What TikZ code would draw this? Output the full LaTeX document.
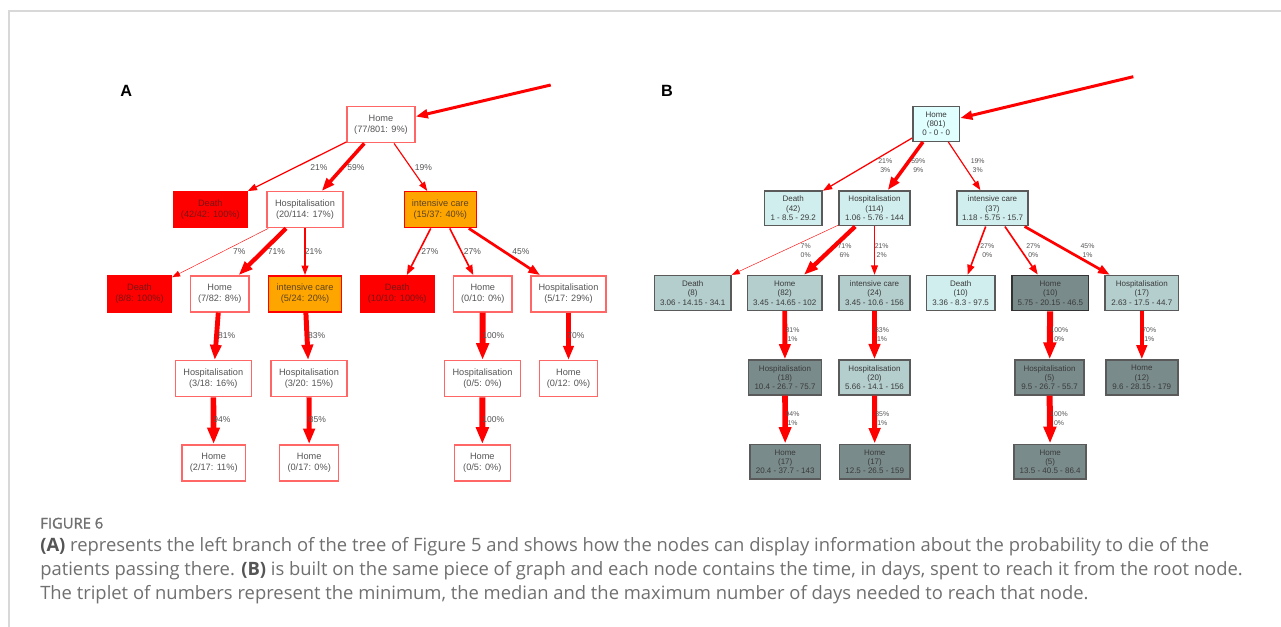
\documentclass[tikz,border=0pt]{standalone}
\usepackage{fontspec}
\setmainfont{Liberation Sans}
\newfontfamily\capfont{Open Sans}
\newfontfamily\capsemi[FakeBold=1.3]{Open Sans}
\usetikzlibrary{arrows.meta}
\definecolor{aborder}{HTML}{FF6666}
\definecolor{atext}{HTML}{555555}
\definecolor{deathtext}{HTML}{7A1414}
\definecolor{icfill}{HTML}{FFA500}
\definecolor{ictext}{HTML}{5C4420}
\definecolor{bborder}{HTML}{5A5A5A}
\definecolor{btext}{HTML}{3A3A3A}
\definecolor{bcA}{HTML}{E0FFFF}
\definecolor{bcB}{HTML}{D1EEEE}
\definecolor{bcC}{HTML}{B4CDCD}
\definecolor{bcD}{HTML}{7A8B8B}
\definecolor{labtext}{HTML}{555555}
\definecolor{framec}{HTML}{D8D8D8}
\definecolor{capgray}{HTML}{707070}
\definecolor{capbold}{HTML}{555555}
\begin{document}
\begin{tikzpicture}[x=0.75pt,y=-0.75pt,
  anode/.style={rectangle, draw=aborder, line width=1.1pt, fill=white, text=atext,
    align=center, inner sep=0pt, minimum height=27pt, minimum width=#1,
    font=\fontsize{6.9}{8.5}\selectfont},
  adeath/.style={anode=#1, fill=red, draw=red, text=deathtext},
  aic/.style={anode=#1, fill=icfill, draw=red, text=ictext},
  bnode/.style={rectangle, draw=bborder, line width=1.1pt, text=btext,
    align=center, inner sep=0pt, minimum height=26.2pt, minimum width=#1,
    font=\fontsize{6}{7}\selectfont},
  ed/.style={draw=red, line width=#1*0.045pt,
    -{Triangle[length=5.5pt 1.6, width'=0pt 0.72]}},
  alab/.style={font=\fontsize{6.4}{7.5}\selectfont, text=labtext, inner sep=0pt},
  blab/.style={font=\fontsize{5.2}{7}\selectfont, text=labtext, inner sep=0pt, align=center},
  plab/.style={font=\fontsize{12.2}{14}\selectfont\bfseries, inner sep=0pt},
  captxt/.style={font=\capfont\fontsize{13.8}{16}\selectfont, text=capgray, inner sep=0pt, anchor=base west}
]
\useasboundingbox (0,0) rectangle (1281,627);
\fill[white] (0,0) rectangle (1281,627);
\draw[framec, line width=0.9pt] (9,627) -- (9,11) -- (1281,11);

% ---------------- Panel A ----------------
\node[plab] (pA) at (126.3,90.8) {A};
\node[anode=51pt] (homeA) at (381,124.7) {Home\\(77/801: 9\%)};
\node[adeath=55pt] (deathA1) at (210.3,209.7) {Death\\(42/42: 100\%)};
\node[anode=57pt] (hospA1) at (305,209.7) {Hospitalisation\\(20/114: 17\%)};
\node[aic=54pt] (icA1) at (440.3,209.7) {intensive care\\(15/37: 40\%)};
\node[adeath=47.8pt] (deathA2) at (139.5,293.8) {Death\\(8/8: 100\%)};
\node[anode=44pt] (homeA2) at (219.7,293.8) {Home\\(7/82: 8\%)};
\node[aic=54.5pt] (icA2) at (305,293.8) {intensive care\\(5/24: 20\%)};
\node[adeath=55.2pt] (deathA3) at (397.2,293.8) {Death\\(10/10: 100\%)};
\node[anode=43.7pt] (homeA3) at (482.8,293.8) {Home\\(0/10: 0\%)};
\node[anode=56.5pt] (hospA3) at (568.5,293.8) {Hospitalisation\\(5/17: 29\%)};
\node[anode=57pt] (hospA4) at (213.3,378.7) {Hospitalisation\\(3/18: 16\%)};
\node[anode=57pt] (hospA5) at (309,378.7) {Hospitalisation\\(3/20: 15\%)};
\node[anode=56.7pt] (hospA6) at (482.5,378.7) {Hospitalisation\\(0/5: 0\%)};
\node[anode=43.2pt] (homeA6) at (568.5,378.7) {Home\\(0/12: 0\%)};
\node[anode=47.5pt] (homeA7) at (213.7,462.8) {Home\\(2/17: 11\%)};
\node[anode=44.3pt] (homeA8) at (309.2,462.8) {Home\\(0/17: 0\%)};
\node[anode=42pt] (homeA9) at (482.3,462.8) {Home\\(0/5: 0\%)};

\coordinate (inA) at (550.7,85);
\draw[ed=50] (inA) -- (homeA);
\draw[ed=21] (homeA) -- (deathA1);
\draw[ed=59] (homeA) -- (hospA1);
\draw[ed=19] (homeA) -- (icA1);
\draw[ed=7] (hospA1) -- (deathA2);
\draw[ed=71] (hospA1) -- (homeA2);
\draw[ed=21] (hospA1) -- (icA2);
\draw[ed=27] (icA1) -- (deathA3);
\draw[ed=27] (icA1) -- (homeA3);
\draw[ed=45] (icA1) -- (hospA3);
\draw[ed=81] (homeA2) -- (hospA4);
\draw[ed=83] (icA2) -- (hospA5);
\draw[ed=100] (homeA3) -- (hospA6);
\draw[ed=70] (hospA3) -- (homeA6);
\draw[ed=94] (hospA4) -- (homeA7);
\draw[ed=85] (hospA5) -- (homeA8);
\draw[ed=100] (hospA6) -- (homeA9);

\node[alab] (la1) at (319,167.3) {21\%};
\node[alab] (la2) at (356,167.3) {59\%};
\node[alab] (la3) at (423.3,167.3) {19\%};
\node[alab] (la4) at (239.3,251.7) {7\%};
\node[alab] (la5) at (276.3,251.7) {71\%};
\node[alab] (la6) at (313.3,251.7) {21\%};
\node[alab] (la7) at (430,251.7) {27\%};
\node[alab] (la8) at (472.3,251.7) {27\%};
\node[alab] (la9) at (521,251.7) {45\%};
\node[alab] (la10) at (226.7,336) {81\%};
\node[alab] (la11) at (316.7,336) {83\%};
\node[alab] (la12) at (493.3,336) {100\%};
\node[alab] (la13) at (576,336) {70\%};
\node[alab] (la14) at (222,419.7) {94\%};
\node[alab] (la15) at (317.3,419.7) {85\%};
\node[alab] (la16) at (493.3,419.7) {100\%};

% ---------------- Panel B ----------------
\node[plab] (pB) at (667,91) {B};
\node[bnode=35pt, fill=bcA] (homeB) at (936.2,123.8) {Home\\(801)\\0 - 0 - 0};
\node[bnode=43.4pt, fill=bcB] (deathB1) at (793.2,208.3) {Death\\(42)\\1 - 8.5 - 29.2};
\node[bnode=53pt, fill=bcB] (hospB1) at (874.5,208.3) {Hospitalisation\\(114)\\1.06 - 5.76 - 144};
\node[bnode=53.4pt, fill=bcB] (icB1) at (992.5,208.3) {intensive care\\(37)\\1.18 - 5.75 - 15.7};
\node[bnode=57.7pt, fill=bcC] (deathB2) at (692.7,293) {Death\\(8)\\3.06 - 14.15 - 34.1};
\node[bnode=56.2pt, fill=bcC] (homeB2) at (784.7,293) {Home\\(82)\\3.45 - 14.65 - 102};
\node[bnode=53.4pt, fill=bcC] (icB2) at (874.5,293) {intensive care\\(24)\\3.45 - 10.6 - 156};
\node[bnode=51.2pt, fill=bcB] (deathB3) at (960.7,293) {Death\\(10)\\3.36 - 8.3 - 97.5};
\node[bnode=57.2pt, fill=bcD, draw=black!80, line width=1.4pt] (homeB3) at (1050.3,293) {Home\\(10)\\5.75 - 20.15 - 46.5};
\node[bnode=55.4pt, fill=bcC] (hospB3) at (1141.8,293) {Hospitalisation\\(17)\\2.63 - 17.5 - 44.7};
\node[bnode=54.7pt, fill=bcD] (hospB4) at (785,377.5) {Hospitalisation\\(18)\\10.4 - 26.7 - 75.7};
\node[bnode=53.4pt, fill=bcC] (hospB5) at (874.5,377.5) {Hospitalisation\\(20)\\5.66 - 14.1 - 156};
\node[bnode=51.5pt, fill=bcD] (hospB6) at (1049.5,377.5) {Hospitalisation\\(5)\\9.5 - 26.7 - 55.7};
\node[bnode=54pt, fill=bcD] (homeB6) at (1141.8,377.5) {Home\\(12)\\9.6 - 28.15 - 179};
\node[bnode=53pt, fill=bcD] (homeB7) at (785.2,461.7) {Home\\(17)\\20.4 - 37.7 - 143};
\node[bnode=53.2pt, fill=bcD] (homeB8) at (874.7,461.7) {Home\\(17)\\12.5 - 26.5 - 159};
\node[bnode=54pt, fill=bcD] (homeB9) at (1050.2,461.7) {Home\\(5)\\13.5 - 40.5 - 86.4};

\coordinate (inB) at (1133.3,76.7);
\draw[ed=50] (inB) -- (homeB);
\draw[ed=21] (homeB) -- (deathB1);
\draw[ed=59] (homeB) -- (hospB1);
\draw[ed=19] (homeB) -- (icB1);
\draw[ed=7] (hospB1) -- (deathB2);
\draw[ed=71] (hospB1) -- (homeB2);
\draw[ed=21] (hospB1) -- (icB2);
\draw[ed=27] (icB1) -- (deathB3);
\draw[ed=27] (icB1) -- (homeB3);
\draw[ed=45] (icB1) -- (hospB3);
\draw[ed=81] (homeB2) -- (hospB4);
\draw[ed=83] (icB2) -- (hospB5);
\draw[ed=100] (homeB3) -- (hospB6);
\draw[ed=70] (hospB3) -- (homeB6);
\draw[ed=94] (hospB4) -- (homeB7);
\draw[ed=85] (hospB5) -- (homeB8);
\draw[ed=100] (hospB6) -- (homeB9);

\node[blab] (lb1) at (885.3,165.3) {21\%\\3\%};
\node[blab] (lb2) at (918.3,165.3) {59\%\\9\%};
\node[blab] (lb3) at (977.7,165.3) {19\%\\3\%};
\node[blab] (lb4) at (805.7,250.3) {7\%\\0\%};
\node[blab] (lb5) at (844.5,250.3) {71\%\\6\%};
\node[blab] (lb6) at (881.7,250.3) {21\%\\2\%};
\node[blab] (lb7) at (987.3,250.3) {27\%\\0\%};
\node[blab] (lb8) at (1033.3,250.3) {27\%\\0\%};
\node[blab] (lb9) at (1087.5,250.3) {45\%\\1\%};
\node[blab] (lb10) at (792.5,334.7) {81\%\\1\%};
\node[blab] (lb11) at (882,334.7) {83\%\\1\%};
\node[blab] (lb12) at (1059.3,334.7) {100\%\\0\%};
\node[blab] (lb13) at (1149.3,334.7) {70\%\\1\%};
\node[blab] (lb14) at (792.5,418.7) {94\%\\1\%};
\node[blab] (lb15) at (882.3,418.7) {85\%\\1\%};
\node[blab] (lb16) at (1059,418.7) {100\%\\0\%};

% ---------------- Caption ----------------
\node[captxt, font=\capsemi\fontsize{11.1}{13}\selectfont] (fig) at (40,528.5) {FIGURE 6};
\node[captxt] (c1) at (40,551.5) {\textcolor{capbold}{\textbf{(A)}} represents the left branch of the tree of Figure 5 and shows how the nodes can display information about the probability to die of the};
\node[captxt] (c2) at (40,575.5) {patients passing there. \textcolor{capbold}{\textbf{(B)}} is built on the same piece of graph and each node contains the time, in days, spent to reach it from the root node.};
\node[captxt] (c3) at (40,599.5) {The triplet of numbers represent the minimum, the median and the maximum number of days needed to reach that node.};
\end{tikzpicture}
\end{document}
